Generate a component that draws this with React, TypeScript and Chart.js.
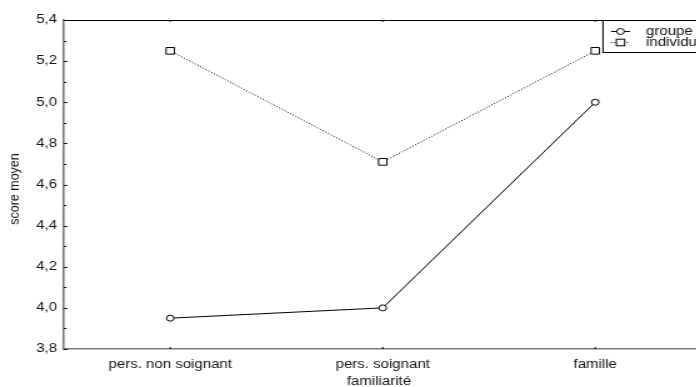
import React, { useEffect, useRef } from "react";
import { Chart, registerables } from "chart.js";

Chart.register(...registerables);

const categories = ["pers. non soignant", "pers. soignant", "famille"];
const groupeValues = [3.95, 4.0, 5.0];
const individuValues = [5.25, 4.71, 5.25];
const seriesNames = ["groupe", "individu"];
const yMin = 3.8;
const yMax = 5.4;
const yStep = 0.2;
const xTitle = "familiarité";
const yTitle = "score moyen";

const FONT = "'Liberation Sans', Arial, sans-serif";
const SX = 1.25; // horizontal stretch of the whole picture
const CW = 570; // canvas width before stretch
const CH = 387;
const TEXT = "#111";

const decor = {
  id: "decor",
  afterDraw(chart: any) {
    const ctx = chart.ctx;
    const area = chart.chartArea;
    const ys = chart.scales.y;
    const xs = chart.scales.x;
    ctx.save();
    // top border
    ctx.strokeStyle = "#000";
    ctx.lineWidth = 1;
    ctx.beginPath();
    ctx.moveTo(area.left, Math.round(area.top) + 0.5);
    ctx.lineTo(CW, Math.round(area.top) + 0.5);
    ctx.stroke();
    // y ticks inward
    const nMinor = Math.round((ys.max - ys.min) / (yStep / 2));
    for (let i = 0; i <= nMinor; i++) {
      const v = ys.min + (i * yStep) / 2;
      const py = Math.round(ys.getPixelForValue(v)) + 0.5;
      const len = i % 2 === 0 ? 2.6 : 2;
      ctx.beginPath();
      ctx.moveTo(area.left, py);
      ctx.lineTo(area.left + len, py);
      ctx.stroke();
    }
    // x ticks inward (bottom and top)
    for (let i = 0; i < categories.length; i++) {
      const px = xs.getPixelForValue(i);
      ctx.beginPath();
      ctx.moveTo(px, area.bottom);
      ctx.lineTo(px, area.bottom - 2);
      ctx.moveTo(px, area.top);
      ctx.lineTo(px, area.top + 2);
      ctx.stroke();
    }
    // titles
    ctx.fillStyle = TEXT;
    ctx.textAlign = "center";
    ctx.textBaseline = "middle";
    ctx.save();
    ctx.translate(15 / SX, 189);
    ctx.scale(1 / SX, 1);
    ctx.rotate(-Math.PI / 2);
    ctx.font = `12.5px ${FONT}`;
    ctx.fillText(yTitle, 0, 0);
    ctx.restore();
    ctx.font = `12px ${FONT}`;
    ctx.fillText(xTitle, 379 / SX, 382);
    // legend
    const lx = 603 / SX;
    const ly = Math.round(area.top) + 0.5;
    ctx.strokeStyle = "#000";
    ctx.lineWidth = 1;
    ctx.fillStyle = "#fff";
    ctx.fillRect(lx, ly, 200, 32);
    ctx.strokeRect(lx, ly, 200, 32);
    const rows = [31, 42];
    for (let r = 0; r < 2; r++) {
      const yy = rows[r] + 0.5;
      ctx.setLineDash(r === 0 ? [] : [1, 1.5]);
      ctx.beginPath();
      ctx.moveTo(611 / SX, yy);
      ctx.lineTo(630 / SX, yy);
      ctx.stroke();
      ctx.setLineDash([]);
      ctx.fillStyle = "#fff";
      const mx = 620.5 / SX;
      if (r === 0) {
        ctx.beginPath();
        ctx.arc(mx, yy, 3, 0, Math.PI * 2);
        ctx.fill();
        ctx.stroke();
      } else {
        ctx.fillRect(mx - 3.3, yy - 3.3, 6.6, 6.6);
        ctx.strokeRect(mx - 3.3, yy - 3.3, 6.6, 6.6);
      }
      ctx.fillStyle = TEXT;
      ctx.textAlign = "left";
      ctx.font = `12px ${FONT}`;
      ctx.fillText(seriesNames[r], 646 / SX, yy);
    }
    ctx.restore();
  },
};

export default function App() {
  const ref = useRef<HTMLCanvasElement>(null);
  useEffect(() => {
    const canvas = ref.current!;
    const chart = new Chart(canvas, {
      type: "line",
      data: {
        labels: categories,
        datasets: [
          {
            label: seriesNames[0],
            data: groupeValues,
            borderColor: "#000",
            borderWidth: 1,
            backgroundColor: "#fff",
            pointStyle: "circle",
            pointRadius: 3,
            pointBorderColor: "#000",
            pointBackgroundColor: "#fff",
            pointBorderWidth: 1,
            tension: 0,
          },
          {
            label: seriesNames[1],
            data: individuValues,
            borderColor: "#000",
            borderWidth: 1,
            borderDash: [1, 1.6],
            backgroundColor: "#fff",
            pointStyle: "rect",
            pointRadius: 4.7,
            pointBorderColor: "#000",
            pointBackgroundColor: "#fff",
            pointBorderWidth: 1,
            tension: 0,
          },
        ],
      },
      options: {
        responsive: false,
        animation: false,
        devicePixelRatio: 1,
        layout: { padding: { left: 0, top: 20, right: CW - 701.5 / SX, bottom: 0 } },
        plugins: { legend: { display: false }, tooltip: { enabled: false } },
        scales: {
          x: {
            type: "category",
            offset: true,
            grid: { display: false, drawTicks: false },
            border: { display: true, color: "#7a7a7a", width: 1.5 },
            ticks: {
              color: TEXT,
              font: { family: FONT, size: 12 },
              padding: 8,
              maxRotation: 0,
              autoSkip: false,
            },
            afterFit: (s: any) => {
              s.height = 38;
              s.paddingLeft = 0;
              s.paddingRight = 0;
            },
          },
          y: {
            type: "linear",
            min: yMin,
            max: yMax,
            grid: { display: false, drawTicks: false },
            border: { display: true, color: "#7a7a7a", width: 1.6 },
            ticks: {
              stepSize: yStep,
              color: TEXT,
              font: { family: FONT, size: 12 },
              padding: 5.6,
              callback: (v: any) => Number(v).toFixed(1).replace(".", ","),
            },
            afterFit: (s: any) => {
              s.width = 64 / SX;
              s.paddingTop = 0;
              s.paddingBottom = 0;
            },
          },
        },
      },
      plugins: [decor],
    });
    return () => chart.destroy();
  }, []);
  return (
    <div
      style={{
        position: "fixed",
        left: 0,
        top: 0,
        width: 696,
        height: 387,
        overflow: "hidden",
        background: "#fff",
      }}
    >
      <canvas
        ref={ref}
        width={CW}
        height={CH}
        style={{
          display: "block",
          width: CW,
          height: CH,
          transform: `scaleX(${SX})`,
          transformOrigin: "0 0",
        }}
      />
    </div>
  );
}
